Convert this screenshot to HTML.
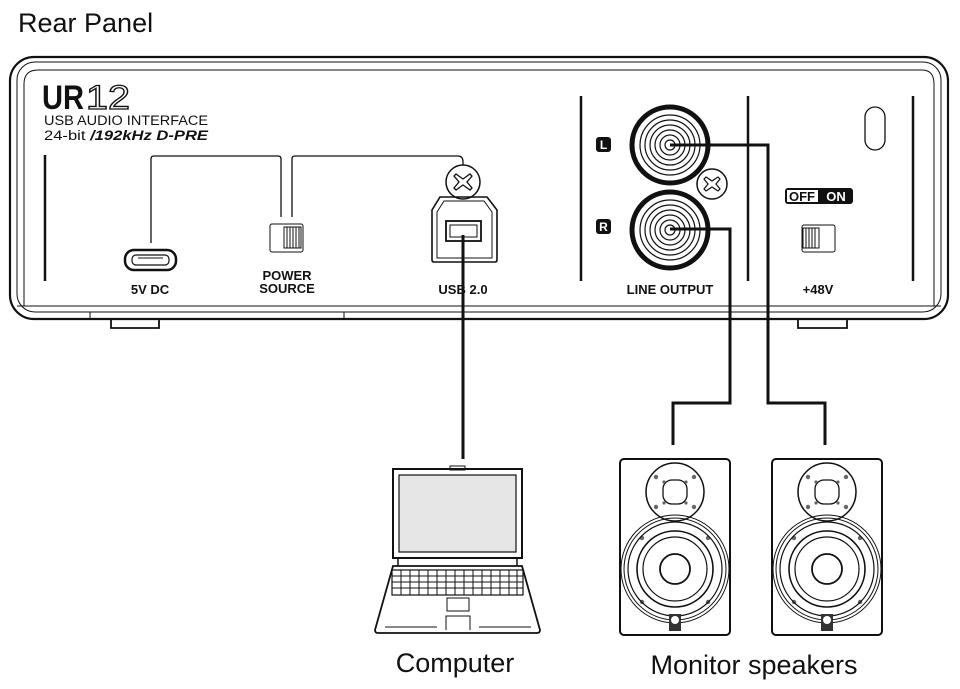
<!DOCTYPE html>
<html><head><meta charset="utf-8"><style>
html,body{margin:0;padding:0;background:#fff;width:960px;height:689px;overflow:hidden}
svg{display:block}
text{font-family:"Liberation Sans",Arial,sans-serif;fill:#111}
</style></head><body>
<svg width="960" height="689" viewBox="0 0 960 689" xmlns="http://www.w3.org/2000/svg">
<text x="18" y="32" font-size="27">Rear Panel</text>
<g fill="none" stroke="#111">
<rect x="10" y="57" width="938" height="262" rx="24" stroke-width="2.2"/>
<rect x="17" y="62" width="924" height="250" rx="18" stroke-width="1"/>
<path d="M24 306 V84 Q24 70 38 70 H922 Q934 70 934 84 V306" stroke-width="1"/>
<line x1="17" y1="306" x2="941" y2="306" stroke-width="1"/>
<line x1="90" y1="312" x2="90" y2="319" stroke-width="1"/>
<line x1="344" y1="312" x2="344" y2="319" stroke-width="1"/>
<path d="M111 319 V328 H159 V319" stroke-width="1.8"/>
<path d="M798 319 V328 H847 V319" stroke-width="1.8"/>
</g>
<text x="42" y="109" font-size="34" font-weight="bold" textLength="42" lengthAdjust="spacingAndGlyphs">UR</text>
<text x="86" y="109" font-size="34" stroke="#111" stroke-width="1.3" style="fill:none" textLength="44" lengthAdjust="spacingAndGlyphs">12</text>
<text x="44" y="125" font-size="13.5" textLength="164" lengthAdjust="spacingAndGlyphs">USB AUDIO INTERFACE</text>
<text x="44" y="140" font-size="13.5" textLength="164" lengthAdjust="spacingAndGlyphs">24-bit <tspan font-weight="bold" font-style="italic">/192kHz D-PRE</tspan></text>
<g stroke="#111" stroke-width="2.5">
<line x1="45" y1="155" x2="45" y2="281"/>
<line x1="581" y1="96" x2="581" y2="281"/>
<line x1="748" y1="96" x2="748" y2="281"/>
<line x1="913" y1="96" x2="913" y2="281"/>
</g>
<g fill="none" stroke="#111" stroke-width="1.3">
<path d="M151 243 V159 Q151 156 154 156 H278 Q281 156 281 159 V217"/>
<path d="M292 217 V159 Q292 156 295 156 H458 Q463 156 463 162 V165"/>
</g>
<rect x="125" y="250" width="51" height="20" rx="9" fill="none" stroke="#111" stroke-width="2.5"/>
<rect x="132" y="255" width="37" height="10" rx="4" fill="none" stroke="#111" stroke-width="1.2"/>
<line x1="138" y1="258" x2="163" y2="258" stroke="#111" stroke-width="1"/>
<rect x="270" y="224" width="33" height="28" rx="2" fill="#fff" stroke="#111" stroke-width="1"/>
<rect x="284" y="227" width="17" height="21" fill="#fff" stroke="#111" stroke-width="1"/>
<path d="M287 227V248M290 227V248M293 227V248M296 227V248M299 227V248" stroke="#111" stroke-width="1"/>
<text x="287" y="280" font-size="13" font-weight="bold" text-anchor="middle">POWER</text>
<text x="287" y="293" font-size="13" font-weight="bold" text-anchor="middle">SOURCE</text>
<text x="150" y="294" font-size="13" font-weight="bold" text-anchor="middle">5V  DC</text>
<circle cx="463" cy="182" r="17" fill="none" stroke="#111" stroke-width="1.5"/>
<path d="M456 174 L463 179 L470 174 L472 176 L467 182 L472 188 L470 190 L463 185 L456 190 L454 188 L459 182 L454 176Z" fill="none" stroke="#111" stroke-width="1.3"/>
<path d="M440 197 H487 L497 210 V260 Q497 262 495 262 H434 Q432 262 432 260 V210 Z" fill="none" stroke="#111" stroke-width="1.6"/>
<path d="M444 201 H484 L492 212 V258 H437 V212 Z" fill="none" stroke="#111" stroke-width="1"/>
<rect x="446" y="221" width="35" height="20" fill="none" stroke="#111" stroke-width="1.8"/>
<rect x="450" y="225" width="27" height="12" fill="none" stroke="#111" stroke-width="1"/>
<text x="463" y="294" font-size="13" font-weight="bold" text-anchor="middle">USB  2.0</text>
<line x1="463" y1="235" x2="463" y2="459" stroke="#111" stroke-width="3"/>
<g fill="none" stroke="#111">
<circle cx="670" cy="145" r="38" stroke-width="5"/>
<circle cx="670" cy="145" r="30" stroke-width="1.2"/>
<circle cx="670" cy="145" r="25" stroke-width="1.2"/>
<circle cx="670" cy="145" r="20" stroke-width="1.2"/>
<circle cx="670" cy="145" r="15" stroke-width="1.2"/>
<circle cx="670" cy="145" r="10" stroke-width="1.2"/>
<circle cx="670" cy="145" r="5" stroke-width="1.2"/>
<circle cx="670" cy="230" r="38" stroke-width="5"/>
<circle cx="670" cy="230" r="30" stroke-width="1.2"/>
<circle cx="670" cy="230" r="25" stroke-width="1.2"/>
<circle cx="670" cy="230" r="20" stroke-width="1.2"/>
<circle cx="670" cy="230" r="15" stroke-width="1.2"/>
<circle cx="670" cy="230" r="10" stroke-width="1.2"/>
<circle cx="670" cy="230" r="5" stroke-width="1.2"/>
<circle cx="712" cy="184" r="15" stroke-width="1.5" fill="#fff"/>
<path d="M706 177 L712 181 L718 177 L720 179 L716 184 L720 189 L718 191 L712 187 L706 191 L704 189 L708 184 L704 179Z" stroke-width="1.2"/>
</g>
<rect x="596" y="137" width="15" height="15" rx="3" fill="#111"/>
<text x="603.5" y="149" font-size="12" font-weight="bold" text-anchor="middle" style="fill:#fff">L</text>
<rect x="596" y="219" width="15" height="15" rx="3" fill="#111"/>
<text x="603.5" y="231" font-size="12" font-weight="bold" text-anchor="middle" style="fill:#fff">R</text>
<text x="670" y="294" font-size="13" font-weight="bold" text-anchor="middle">LINE  OUTPUT</text>
<g fill="none" stroke="#111" stroke-width="3">
<path d="M670 145 H768 V403 H825 V445"/>
<path d="M670 229 H730 V403 H673 V445"/>
</g>
<rect x="865" y="107" width="20" height="43" rx="10" fill="none" stroke="#111" stroke-width="1.3"/>
<rect x="785" y="188" width="68" height="16" rx="3" fill="#111"/>
<rect x="787" y="190" width="31" height="12" fill="#fff"/>
<text x="802" y="201" font-size="13" font-weight="bold" text-anchor="middle">OFF</text>
<text x="836" y="201" font-size="13" font-weight="bold" text-anchor="middle" style="fill:#fff">ON</text>
<rect x="802" y="225" width="33" height="27" rx="2" fill="#fff" stroke="#111" stroke-width="1"/>
<rect x="803" y="228" width="16" height="20" fill="#fff" stroke="#111" stroke-width="1"/>
<path d="M806 228V248M809 228V248M812 228V248M815 228V248" stroke="#111" stroke-width="1"/>
<text x="818" y="294" font-size="13" font-weight="bold" text-anchor="middle">+48V</text>
<g fill="none" stroke="#111" stroke-width="1.5">
<rect x="393" y="469" width="129" height="89" stroke-width="2"/>
<rect x="399" y="475" width="117" height="77" fill="#e6e6e6" stroke-width="1.2"/>
<rect x="450" y="466" width="15" height="4" stroke-width="1"/>
<path d="M393 566 H522 L540 630 Q540 633 537 633 H378 Q375 633 375 630 Z" stroke-width="1.8"/>
<line x1="398" y1="558" x2="398" y2="566"/>
<line x1="517" y1="558" x2="517" y2="566"/>
<rect x="392" y="570" width="131" height="25" stroke-width="1.2"/>
<path d="M392 576H523M392 582H523M392 588H523" stroke-width="1"/>
<path d="M401 570V595M410 570V595M419 570V595M428 570V595M437 570V595M446 570V595M455 570V595M464 570V595M473 570V595M482 570V595M491 570V595M500 570V595M509 570V595M517 570V595" stroke-width="1"/>
<rect x="447" y="598" width="22" height="13" stroke-width="1"/>
<path d="M446 630 V616 H470 V630" stroke-width="1"/>
<path d="M385 627 H437 M479 627 H531" stroke-width="1"/>
</g>
<g id="spk" fill="none" stroke="#111">
<rect x="620" y="459" width="110" height="176" rx="4" stroke-width="2"/>
<circle cx="675" cy="492" r="29" stroke-width="1.5"/>
<rect x="663" y="480" width="24" height="24" rx="9" stroke-width="1.3"/>
<g fill="#666" stroke="none">
<circle cx="656" cy="477" r="2.2"/><circle cx="694" cy="477" r="2.2"/><circle cx="656" cy="507" r="2.2"/><circle cx="694" cy="507" r="2.2"/>
<circle cx="664" cy="482" r="1.6"/><circle cx="686" cy="482" r="1.6"/><circle cx="664" cy="503" r="1.6"/><circle cx="686" cy="503" r="1.6"/>
<circle cx="642" cy="538" r="2.2"/><circle cx="708" cy="538" r="2.2"/><circle cx="642" cy="602" r="2.2"/><circle cx="708" cy="602" r="2.2"/>
</g>
<circle cx="675" cy="569" r="54" stroke-width="1"/>
<circle cx="675" cy="569" r="51" stroke-width="1"/>
<circle cx="675" cy="569" r="47" stroke-width="1.2"/>
<circle cx="675" cy="569" r="38" stroke-width="1.6"/>
<circle cx="675" cy="569" r="32" stroke-width="1.2"/>
<circle cx="675" cy="569" r="15" stroke-width="1.8"/>
<rect x="669" y="614" width="12" height="17" fill="#333" stroke="none"/>
<circle cx="675" cy="620" r="4" fill="#fff" stroke="none"/>
</g>
<use href="#spk" x="152"/>
<text x="455" y="672" font-size="27" text-anchor="middle">Computer</text>
<text x="754" y="674" font-size="27" text-anchor="middle">Monitor speakers</text>
</svg>
</body></html>
